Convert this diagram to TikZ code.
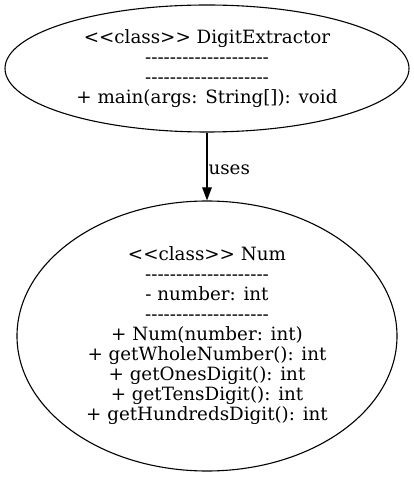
\documentclass[tikz,border=0pt]{standalone}
\usepackage{fontspec}
\setmainfont{DejaVu Serif}[Ligatures=TeXOff]
\usetikzlibrary{shapes.geometric,arrows.meta}
\begin{document}
\begin{tikzpicture}[x=1pt,y=1pt,
  cls/.style={draw, line width=1.1pt, ellipse, inner sep=0pt, align=center, font=\fontsize{18.3}{20}\selectfont},
  conn/.style={draw, -{Triangle[length=13pt,width=9.5pt]}, line width=1.1pt},
  lbl/.style={font=\fontsize{18.3}{20}\selectfont, anchor=west, inner sep=1pt}]
\useasboundingbox (0,0) rectangle (414,477);
\node[cls, minimum width=404pt, minimum height=127pt] (de) at (207,408.5)
 {<<class>> DigitExtractor\\--------------------\\--------------------\\+ main(args: String[]): void};
\node[cls, minimum width=380pt, minimum height=270pt] (num) at (207,141)
 {<<class>> Num\\--------------------\\- number: int\\--------------------\\+ Num(number: int)\\+ getWholeNumber(): int\\+ getOnesDigit(): int\\+ getTensDigit(): int\\+ getHundredsDigit(): int};
\draw[conn] (de) -- (num) node[pos=0.55, lbl] (u) {uses};
\end{tikzpicture}
\end{document}
